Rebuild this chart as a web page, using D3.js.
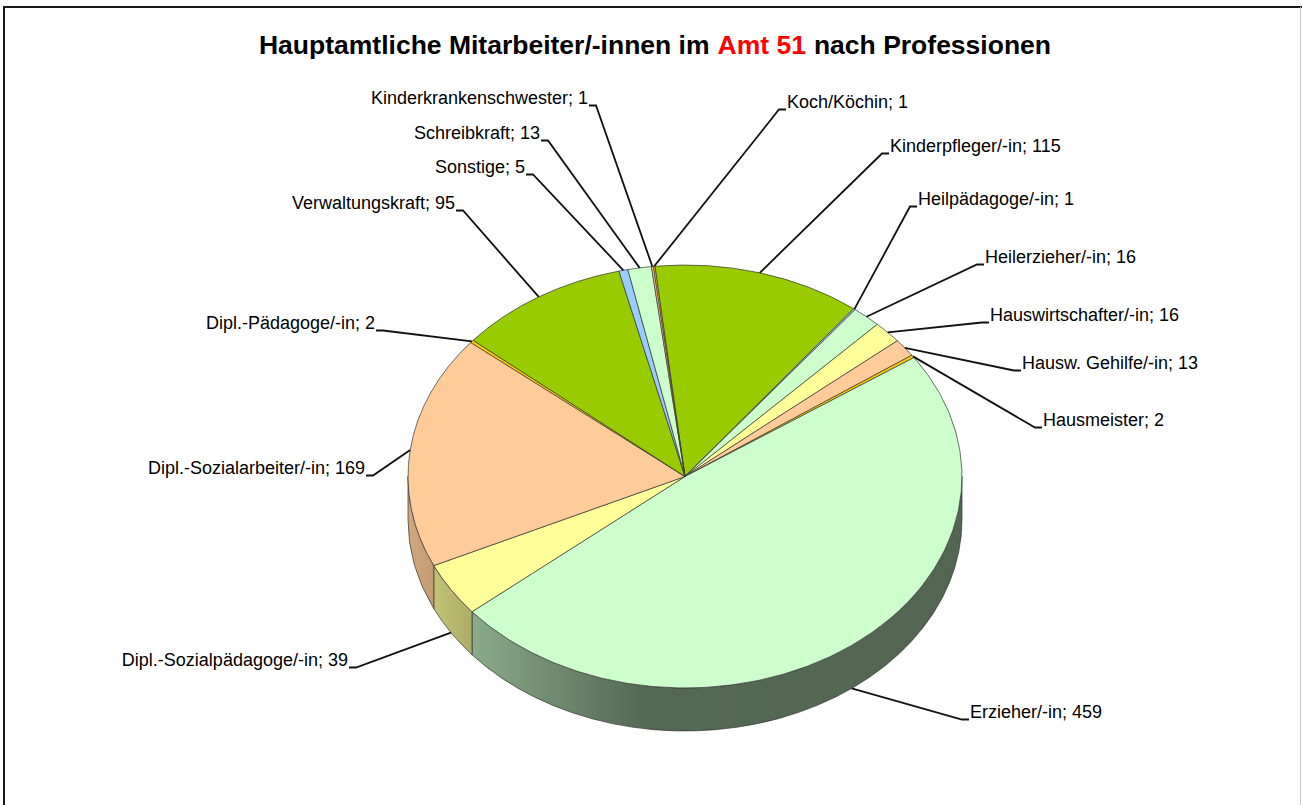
<!DOCTYPE html>
<html>
<head>
<meta charset="utf-8">
<script src="https://cdn.jsdelivr.net/npm/d3@7"></script>
<style>
  html, body { margin: 0; padding: 0; background: #fff; }
  svg { display: block; }
</style>
</head>
<body>
<div id="vis"></div>
<script>
// categories in clockwise order, starting with the slice right before 12 o'clock
var categories = [
  "Koch/Köchin", "Kinderpfleger/-in", "Heilpädagoge/-in", "Heilerzieher/-in",
  "Hauswirtschafter/-in", "Hausw. Gehilfe/-in", "Hausmeister", "Erzieher/-in",
  "Dipl.-Sozialpädagoge/-in", "Dipl.-Sozialarbeiter/-in", "Dipl.-Pädagoge/-in",
  "Verwaltungskraft", "Sonstige", "Schreibkraft", "Kinderkrankenschwester"
];
var values = [1, 115, 1, 16, 16, 13, 2, 459, 39, 169, 2, 95, 5, 13, 1];
var colors = [
  "#FFCC00", "#99CC00", "#99CCFF", "#CCFFCC", "#FFFF99", "#FFCC99", "#FFCC00",
  "#CCFFCC", "#FFFF99", "#FFCC99", "#FFCC00", "#99CC00", "#99CCFF", "#CCFFCC", "#FFCC99"
];

// title pieces: text and colour
var titleParts = [
  ["Hauptamtliche Mitarbeiter/-innen im", "#000000"],
  ["Amt 51", "#FF0000"],
  ["nach Professionen", "#000000"]
];

// label placement: text edge x, baseline y, side the text sits on
var labelLayout = [
  [787, 108, "r"], [890, 152, "r"], [918, 205, "r"], [985, 263, "r"],
  [990, 321, "r"], [1022, 369, "r"], [1043, 426, "r"], [970, 718, "r"],
  [348, 666, "l"], [365, 474, "l"], [375, 329, "l"],
  [455, 209, "l"], [525, 173, "l"], [540, 139, "l"], [588, 104, "l"]
];

var width = 1302, height = 805;
var cx = 685, cy = 476.5, rx = 277, ry = 211.5, depth = 43;
var rot = -6.58 * Math.PI / 180;

var svg = d3.select("#vis").append("svg")
  .attr("width", width)
  .attr("height", height);

// chart frame
svg.append("line").attr("x1", 4).attr("y1", 7).attr("x2", 1302).attr("y2", 7)
  .attr("stroke", "#1a1a1a").attr("stroke-width", 2);
svg.append("line").attr("x1", 4).attr("y1", 6).attr("x2", 4).attr("y2", 805)
  .attr("stroke", "#1a1a1a").attr("stroke-width", 2);
svg.append("line").attr("x1", 1300.5).attr("y1", 7).attr("x2", 1300.5).attr("y2", 805)
  .attr("stroke", "#c8c8c8").attr("stroke-width", 1);

// title: one piece per colour, laid out side by side and centred
var titleG = svg.append("g").attr("class", "title")
  .style("font-family", "'Liberation Sans Narrow', 'Liberation Sans', Arial, sans-serif")
  .style("font-weight", "bold")
  .style("font-size", "26.5px");
var tTexts = titleG.selectAll("text")
  .data(titleParts)
  .enter().append("text")
  .attr("y", 54)
  .attr("fill", function(d) { return d[1]; })
  .text(function(d) { return d[0]; });
var gap = 8, widths = [];
tTexts.each(function() { widths.push(this.getComputedTextLength()); });
var total = d3.sum(widths) + gap * (widths.length - 1);
var tx = 655 - total / 2;
tTexts.attr("x", function(d, i) {
  var x = tx;
  tx += widths[i] + gap;
  return x;
});

var data = categories.map(function(c, i) {
  return { name: c, value: values[i], color: colors[i], pos: labelLayout[i] };
});

var pie = d3.pie()
  .sort(null)
  .value(function(d) { return d.value; })
  .startAngle(rot)
  .endAngle(rot + 2 * Math.PI);

var arcs = pie(data);

function pt(a, dy) {
  return [cx + rx * Math.sin(a), cy - ry * Math.cos(a) + (dy || 0)];
}

// shading gradient for the outer wall (lighter on the left, dark towards the right)
var defs = svg.append("defs");
function shade(c, k) {
  var col = d3.rgb(c);
  return d3.rgb(col.r * k, col.g * k, col.b * k).toString();
}
arcs.forEach(function(d, i) {
  var g = defs.append("linearGradient")
    .attr("id", "wall" + i)
    .attr("gradientUnits", "userSpaceOnUse")
    .attr("x1", cx - rx).attr("x2", cx + rx)
    .attr("y1", 0).attr("y2", 0);
  [[0, 0.82], [0.13, 0.66], [0.42, 0.41], [1, 0.40]].forEach(function(s) {
    g.append("stop").attr("offset", s[0]).attr("stop-color", shade(d.data.color, s[1]));
  });
});

// outer walls (front half only)
var walls = svg.append("g").attr("class", "walls");
arcs.forEach(function(d, i) {
  var b0 = Math.max(d.startAngle, Math.PI / 2);
  var b1 = Math.min(d.endAngle, 3 * Math.PI / 2);
  if (b1 <= b0) return;
  var p0 = pt(b0), p1 = pt(b1), q1 = pt(b1, depth), q0 = pt(b0, depth);
  var path = "M" + p0 + "A" + rx + "," + ry + " 0 0 1 " + p1 +
    "L" + q1 + "A" + rx + "," + ry + " 0 0 0 " + q0 + "Z";
  walls.append("path")
    .attr("d", path)
    .attr("fill", "url(#wall" + i + ")")
    .attr("stroke", "#333")
    .attr("stroke-width", 0.7)
    .attr("stroke-linejoin", "round");
});

// top faces
var tops = svg.append("g").attr("class", "tops");
tops.selectAll("path")
  .data(arcs)
  .enter().append("path")
  .attr("d", function(d) {
    var p0 = pt(d.startAngle), p1 = pt(d.endAngle);
    var large = (d.endAngle - d.startAngle) > Math.PI ? 1 : 0;
    return "M" + cx + "," + cy + "L" + p0 +
      "A" + rx + "," + ry + " 0 " + large + " 1 " + p1 + "Z";
  })
  .attr("fill", function(d) { return d.data.color; })
  .attr("stroke", "#333")
  .attr("stroke-width", 0.7)
  .attr("stroke-linejoin", "round");

// leader lines and labels
var labels = svg.append("g").attr("class", "labels")
  .style("font-family", "'Liberation Sans', Arial, sans-serif")
  .style("font-size", "18px");

arcs.forEach(function(d) {
  var mid = (d.startAngle + d.endAngle) / 2;
  var anchor = pt(mid, Math.cos(mid) < 0 ? depth : 0);
  var lp = d.data.pos;
  var x = lp[0], y = lp[1], right = lp[2] === "r";
  var hy = y + 1.5;
  var e0 = right ? x - 1 : x + 1;
  var e1 = right ? x - 8 : x + 8;
  labels.append("path")
    .attr("d", "M" + e0 + "," + hy + "L" + e1 + "," + hy + "L" + anchor)
    .attr("fill", "none")
    .attr("stroke", "#111")
    .attr("stroke-width", 1.8);
  labels.append("text")
    .attr("x", x)
    .attr("y", y)
    .attr("text-anchor", right ? "start" : "end")
    .attr("fill", "#000")
    .text(d.data.name + "; " + d.data.value);
});
</script>
</body>
</html>
